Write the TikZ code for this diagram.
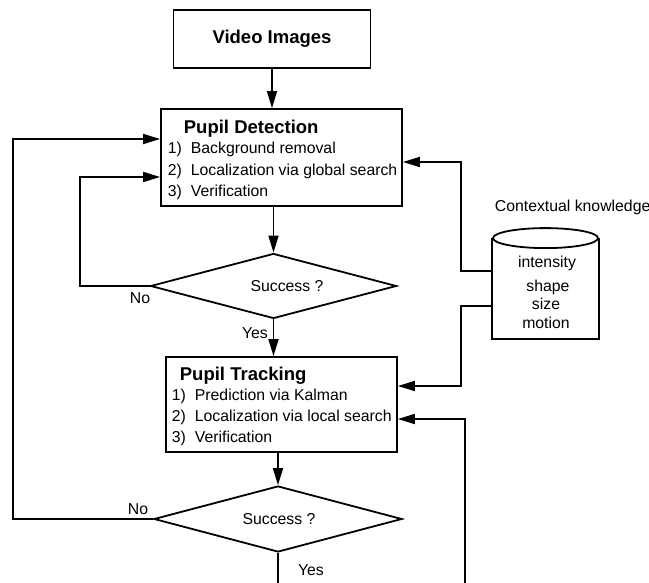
\documentclass[tikz,border=0pt]{standalone}
\usepackage{fontspec}
\setmainfont{Liberation Sans}
\usetikzlibrary{arrows.meta,calc,shapes.geometric}
\begin{document}
\begin{tikzpicture}[x=1pt,y=-1pt,
  line width=1.8pt,
  every node/.style={inner sep=0pt, font=\fontsize{15.8}{18}\selectfont},
  box/.style={draw, rectangle, line width=1.8pt},
  dec/.style={draw, diamond, line width=1.8pt},
  hd/.style={font=\fontsize{18.5}{22}\selectfont\bfseries, anchor=base west},
  itm/.style={anchor=base west},
  lbl/.style={anchor=base},
  arr/.style={-{Triangle[length=17pt,width=10pt]}}]
\useasboundingbox (0,0) rectangle (649,583);

% boxes
\node[box, minimum width=197, minimum height=58, font=\fontsize{18.5}{22}\selectfont\bfseries] (video) at (272,39) {Video Images};
\node[box, minimum width=241, minimum height=97] (det) at (281.5,157.5) {};
\node[box, minimum width=231, minimum height=95] (trk) at (281.5,404.5) {};
\node[dec, minimum width=246, minimum height=65] (q1) at (273.5,286) {};
\node[dec, minimum width=248, minimum height=66] (q2) at (278,519) {};

% detection text
\node[hd] (dett) at (183,134) {Pupil Detection};
\node[itm] (d1n) at (167,154) {1)};
\node[itm] (d1t) at (190,154) {Background removal};
\node[itm] (d2n) at (167,176) {2)};
\node[itm] (d2t) at (190,176) {Localization via global search};
\node[itm] (d3n) at (167,197) {3)};
\node[itm] (d3t) at (190,197) {Verification};

% tracking text
\node[hd] (trkt) at (179,381) {Pupil Tracking};
\node[itm] (t1n) at (171,400) {1)};
\node[itm] (t1t) at (194,400) {Prediction via Kalman};
\node[itm] (t2n) at (171,421) {2)};
\node[itm] (t2t) at (194,421) {Localization via local search};
\node[itm] (t3n) at (171,442) {3)};
\node[itm] (t3t) at (194,442) {Verification};

% decision texts
\node[lbl] (q1t) at (287,292) {Success ?};
\node[lbl] (q2t) at (279,524) {Success ?};
\node[lbl] (no1) at (140,304) {No};
\node[lbl] (no2) at (138,514) {No};
\node[lbl] (yes1) at (255,338) {Yes};
\node[lbl] (yes2) at (311,575) {Yes};

% contextual knowledge cylinder
\node[minimum width=105, minimum height=109] (cyl) at (545.5,283.5) {};
\draw ($(cyl.north)+(0,10)$) ellipse [x radius=52.5, y radius=10];
\draw ($(cyl.north west)+(0,10)$) -- (cyl.south west) -- (cyl.south east) -- ($(cyl.north east)+(0,10)$);
\node[itm] (ctxt) at (494,212) {Contextual knowledge};
\node[lbl] (c1) at (547,268) {intensity};
\node[lbl] (c2) at (548,291) {shape};
\node[lbl] (c3) at (546,310) {size};
\node[lbl] (c4) at (546,328) {motion};

% helper coordinates
\coordinate (outerx) at (13,0);
\coordinate (innerx) at (80,0);
\coordinate (ctxx) at (461,0);
\coordinate (detin1) at ($(det.west)+(0,-18.5)$);
\coordinate (detin2) at ($(det.west)+(0,19.5)$);
\coordinate (detin3) at ($(det.east)+(0,4.5)$);
\coordinate (trkin1) at ($(trk.east)+(0,-18.5)$);
\coordinate (trkin2) at ($(trk.east)+(0,14.5)$);
\coordinate (cylout1) at ($(cyl.west)+(0,-12.5)$);
\coordinate (cylout2) at ($(cyl.west)+(0,22.5)$);
\coordinate (b1) at (278,590);
\coordinate (b2) at (465,590);

% connectors
\draw[arr] (video.south) -- (video.south |- det.north);
\draw[arr] (det.south -| q1.north) -- (q1.north);
\draw[arr] (q1.south) -- (q1.south |- trk.north);
\draw[arr] (trk.south -| q2.north) -- (q2.north);
\draw (q2.south) -- (b1);
\draw[arr] (b2) |- (trkin2);
\draw[arr] (q2.west) -| (outerx |- detin1) -- (detin1);
\draw[arr] (q1.west) -| (innerx |- detin2) -- (detin2);
\draw[arr] (cylout1) -| (ctxx |- detin3) -- (detin3);
\draw[arr] (cylout2) -| (ctxx |- trkin1) -- (trkin1);
\end{tikzpicture}
\end{document}
